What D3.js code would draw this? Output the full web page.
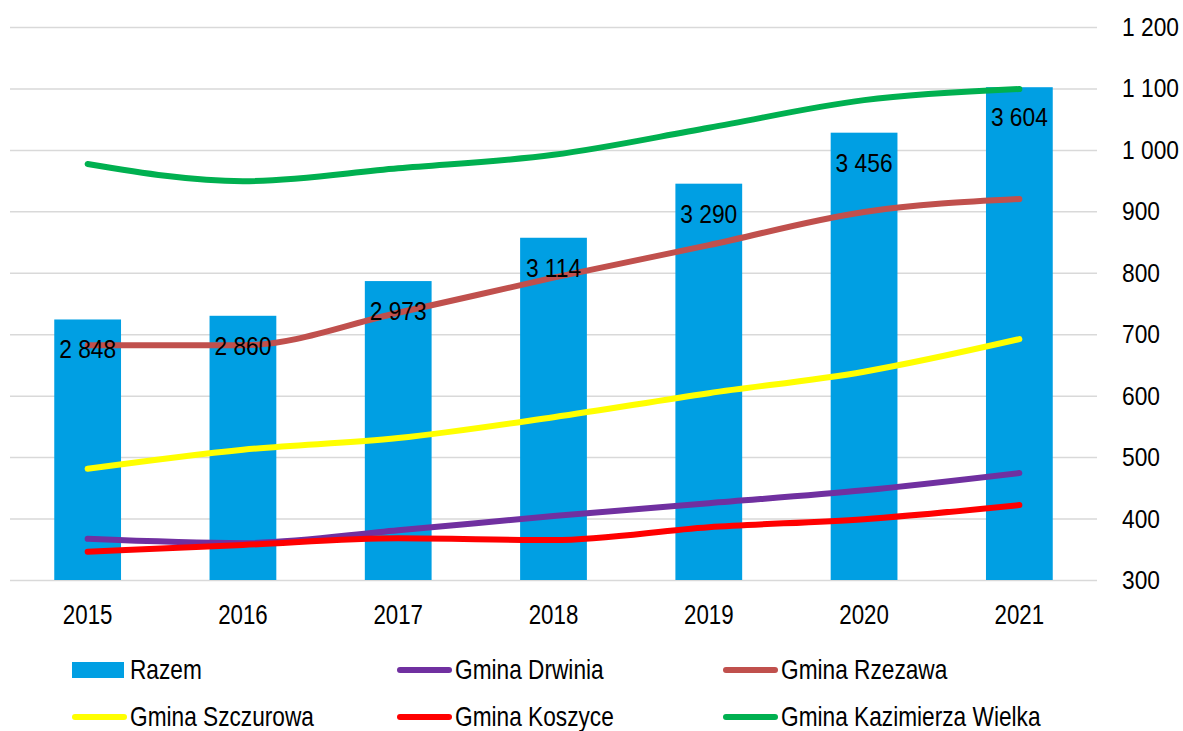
<!DOCTYPE html>
<html>
<head>
<meta charset="utf-8">
<script src="https://cdn.jsdelivr.net/npm/d3@7"></script>
<style>
  body { margin: 0; background: #fff; }
  text { font-family: "Liberation Sans", Arial, sans-serif; fill: #000; }
</style>
</head>
<body>
<div id="chart"></div>
<script>
// values
const years = ["2015", "2016", "2017", "2018", "2019", "2020", "2021"];
const razem = [2848, 2860, 2973, 3114, 3290, 3456, 3604];
const drwinia = [367, 360, 381, 404, 425, 446, 474];
const rzezawa = [682, 682, 735, 792, 845, 899, 920];
const szczurowa = [481, 512, 531, 565, 604, 639, 692];
const koszyce = [346, 357, 368, 365, 386, 399, 422];
const kazimierza = [977, 949, 970, 992, 1036, 1081, 1099];
const rightTicks = [300, 400, 500, 600, 700, 800, 900, 1000, 1100, 1200];
const barDomain = [2000, 3800]; // hidden axis of the bars

const lineSeries = [
    { name: "Gmina Drwinia", values: drwinia, color: "#7030A0" },
    { name: "Gmina Rzezawa", values: rzezawa, color: "#C0504D" },
    { name: "Gmina Szczurowa", values: szczurowa, color: "#FFFF00" },
    { name: "Gmina Koszyce", values: koszyce, color: "#FF0000" },
    { name: "Gmina Kazimierza Wielka", values: kazimierza, color: "#00B050" }
];
const barColor = "#009FE3";

const W = 1183, H = 731;
const margin = { top: 27, left: 10, right: 86, bottom: 151 };
const width = W - margin.left - margin.right,
      height = H - margin.top - margin.bottom;

const pl = d3.formatLocale({ decimal: ",", thousands: " ", grouping: [3], currency: ["", " zł"] });
const fmt = pl.format(",d");

const svg = d3.select('#chart').append('svg')
    .attr('width', W)
    .attr('height', H);

const g = svg.append('g')
    .attr('transform', `translate(${margin.left},${margin.top})`);

// Scales
let xscale = d3.scaleBand().domain(years).range([0, width]).paddingInner(0.57).paddingOuter(0.285);
let yright = d3.scaleLinear().domain([300, 1200]).range([height, 0]);
let ybar = d3.scaleLinear().domain(barDomain).range([height, 0]);
let xc = d => xscale(d) + xscale.bandwidth() / 2;

// gridlines
g.append("g")
    .attr("class", "grid")
    .call(d3.axisLeft(yright).tickValues(rightTicks).tickSize(-width).tickFormat(""))
    .call(a => a.select(".domain").remove())
    .call(a => a.selectAll("line").attr("stroke", "#D9D9D9").attr("stroke-width", 1.5));

// bars
g.selectAll("rect.bar")
    .data(years)
    .join("rect")
    .attr("class", "bar")
    .attr("x", d => xscale(d))
    .attr("width", xscale.bandwidth())
    .attr("y", (d, i) => ybar(razem[i]))
    .attr("height", (d, i) => height - ybar(razem[i]))
    .style("fill", barColor);

// lines
let line = d3.line()
    .x((d, i) => xc(years[i]))
    .y(d => yright(d))
    .curve(d3.curveMonotoneX);

g.selectAll("path.series")
    .data(lineSeries)
    .join("path")
    .attr("class", "series")
    .attr("d", d => line(d.values))
    .attr("fill", "none")
    .attr("stroke", d => d.color)
    .attr("stroke-width", 6)
    .attr("stroke-linecap", "round")
    .attr("stroke-linejoin", "round");

// bar labels
g.selectAll(".barLabel")
    .data(years)
    .join("text")
    .attr("class", "barLabel")
    .attr("text-anchor", "middle")
    .attr("font-size", 25)
    .attr("transform", (d, i) => `translate(${xc(d)},${ybar(razem[i]) + 39}) scale(0.91,1)`)
    .text((d, i) => fmt(razem[i]));

// right axis
g.append("g")
    .attr("transform", `translate(${width + 25},0)`)
    .call(d3.axisRight(yright).tickValues(rightTicks).tickSize(0).tickFormat(fmt))
    .call(a => a.select(".domain").remove())
    .call(a => a.selectAll("text")
        .attr("x", 0)
        .attr("font-size", 26.5)
        .attr("font-family", null)
        .attr("transform", "scale(0.86,1)"));

// x axis
g.append("g")
    .attr("transform", `translate(0,${height + 34})`)
    .call(d3.axisBottom(xscale).tickSize(0))
    .call(a => a.select(".domain").remove())
    .call(a => a.selectAll("text")
        .attr("y", 0)
        .attr("dy", "0.35em")
        .attr("font-size", 27.5)
        .attr("font-family", null)
        .attr("transform", "scale(0.81,1)"));

// legend
const legendItems = [{ name: "Razem", color: barColor, bar: true }].concat(lineSeries);
const legendX = [72, 397, 723], legendY = [670, 717];

let legend = svg.selectAll(".legendItem")
    .data(legendItems)
    .join("g")
    .attr("class", "legendItem")
    .attr("transform", (d, i) => `translate(${legendX[i % 3]},${legendY[Math.floor(i / 3)]})`);

legend.filter(d => d.bar).append("rect")
    .attr("x", 0).attr("y", -8)
    .attr("width", 52).attr("height", 16)
    .style("fill", d => d.color);

legend.filter(d => !d.bar).append("line")
    .attr("x1", 3).attr("x2", 52)
    .attr("stroke", d => d.color)
    .attr("stroke-width", 6)
    .attr("stroke-linecap", "round");

legend.append("text")
    .attr("font-size", 27)
    .attr("dy", "0.35em")
    .attr("transform", "translate(58,0) scale(0.84,1)")
    .text(d => d.name);
</script>
</body>
</html>
